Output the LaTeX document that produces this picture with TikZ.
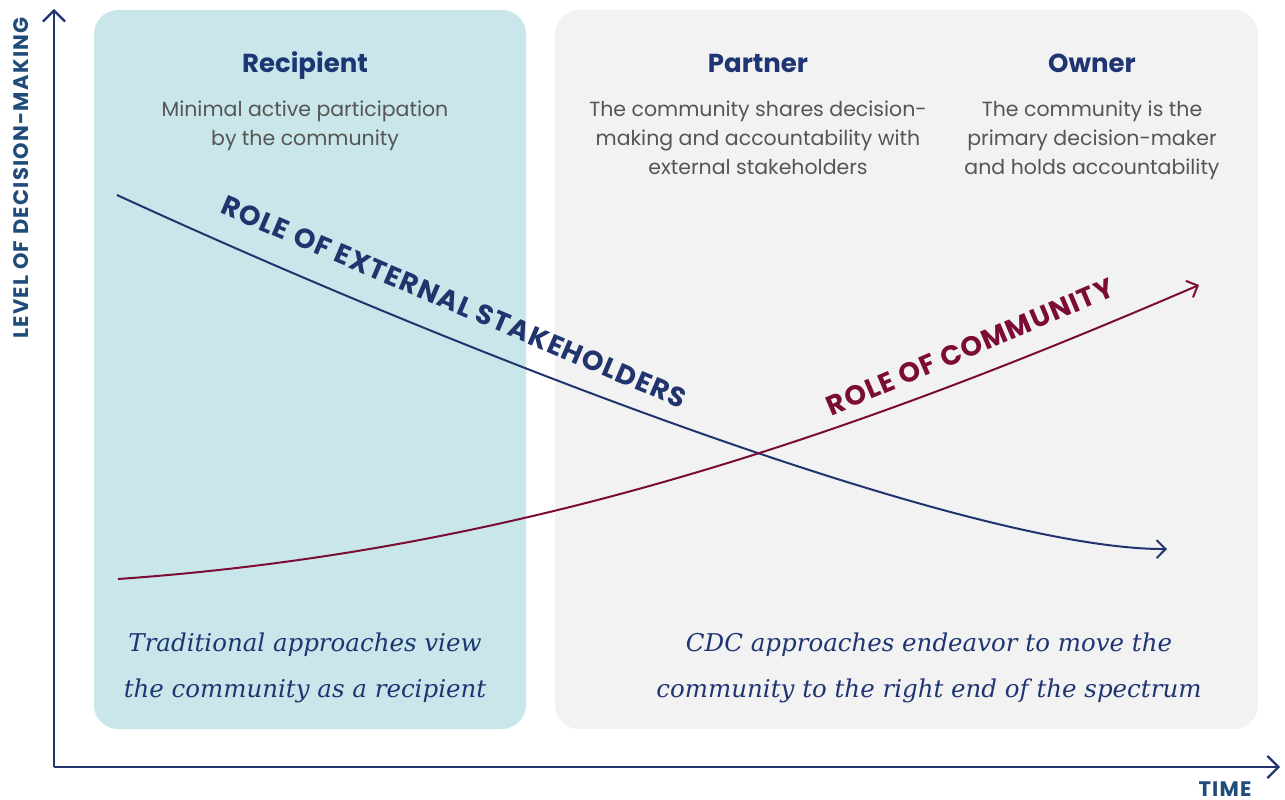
\documentclass[tikz,border=0pt]{standalone}
\usepackage{fontspec}
\setmainfont{Poppins}
\newfontfamily\itfont{DejaVu Serif}
\usetikzlibrary{arrows.meta}
\definecolor{tealbg}{HTML}{C9E7EA}
\definecolor{greybg}{HTML}{F2F2F2}
\definecolor{navy}{HTML}{1F3573}
\definecolor{linenavy}{HTML}{22346E}
\definecolor{maroon}{HTML}{7B0C35}
\definecolor{txtgrey}{HTML}{555555}
\definecolor{axislbl}{HTML}{1F4C7A}
\tikzset{
  panel/.style={rounded corners=24pt, draw=none},
  title/.style={font=\fontsize{26}{30}\selectfont\bfseries, text=navy, inner sep=0pt, anchor=base},
  desc/.style={font=\fontsize{20.5}{29}\selectfont, text=txtgrey, align=center, inner sep=0pt},
  note/.style={font=\fontsize{24.5}{46}\selectfont\itfont\itshape, text=navy, align=center, inner sep=0pt},
  axis/.style={line width=2.2pt, draw=linenavy, -{Straight Barb[length=11pt,width=22pt,line width=2.2pt]}},
  curve/.style={line width=2pt, -{Straight Barb[length=9pt,width=18pt,line width=2pt]}},
  axlabel/.style={font=\fontsize{21}{22}\selectfont\bfseries\addfontfeatures{LetterSpace=6}, text=axislbl, inner sep=0pt},
  rolelabel/.style={font=\fontsize{27.5}{30}\selectfont\bfseries\addfontfeatures{LetterSpace=4.5}, inner sep=0pt},
}
\begin{document}
\begin{tikzpicture}[x=1pt,y=-1pt]
\useasboundingbox (0,0) rectangle (1285,800);
% panels
\fill[panel, tealbg] (94,10) rectangle (526,729);
\fill[panel, greybg] (555,10) rectangle (1258,729);
% axes
\coordinate (origin) at (54,767);
\coordinate (ytip) at (54,9);
\coordinate (xtip) at (1280,767);
\draw[axis] (origin) -- (ytip);
\draw[axis] (origin) -- (xtip);
\node[axlabel, rotate=90] (ylab) at (21,178) {LEVEL OF DECISION-MAKING};
\node[axlabel, anchor=base] (xlab) at (1225,796) {TIME};
% titles
\node[title] (recipient) at (305,73) {Recipient};
\node[title] (partner) at (758,73) {Partner};
\node[title] (owner) at (1092,73) {Owner};
% descriptions
\node[desc, anchor=north] (recdesc) at (305,101) {Minimal active participation\\by the community};
\node[desc, anchor=north] (pardesc) at (758,101) {The community shares decision-\\making and accountability with\\external stakeholders};
\node[desc, anchor=north] (owndesc) at (1092,101) {The community is the\\primary decision-maker\\and holds accountability};
% curves
\coordinate (extstart) at (117,195);
\coordinate (extend) at (1167,549);
\coordinate (comstart) at (118,579);
\coordinate (comend) at (1199,285);
\draw[curve, linenavy] (extstart) .. controls (500,371) and (980,550) .. (extend);
\draw[curve, maroon] (comstart) .. controls (518,551) and (848,436) .. (comend);
\node[rolelabel, text=linenavy, rotate=-23] (extlabel) at (454,302) {ROLE OF EXTERNAL STAKEHOLDERS};
\node[rolelabel, text=maroon, rotate=23] (comlabel) at (970,347) {ROLE OF COMMUNITY};
% notes
\node[note] (tradnote) at (305,668) {Traditional approaches view\\the community as a recipient};
\node[note] (cdcnote) at (929,668) {CDC approaches endeavor to move the\\community to the right end of the spectrum};
\end{tikzpicture}
\end{document}
